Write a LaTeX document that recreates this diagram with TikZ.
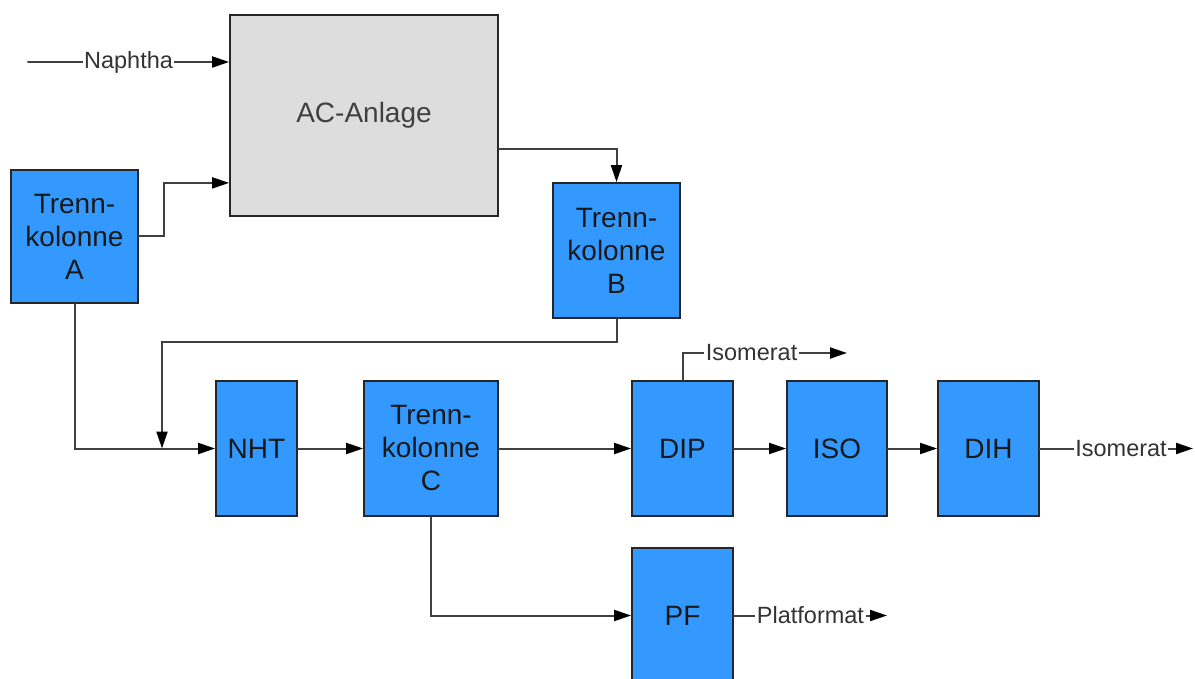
\documentclass[tikz,border=0pt]{standalone}
\usepackage{fontspec}
\setmainfont{Liberation Sans}
\usetikzlibrary{
    arrows.meta,
    positioning
}

\begin{document}
\begin{tikzpicture}
    [x=1pt,y=-1pt,line cap=round,
    % Styles
    unit/.style={draw=black!85,line width=1.8pt,fill=unitblue,text=black!90,
        align=center,inner sep=0pt,font=\fontsize{28}{33}\selectfont},
    plant/.style={unit,fill=plantgray,text=black!75},
    flow/.style={draw=black!75,line width=2pt,
        -{Triangle[length=17pt,width=11pt,color=black]}},
    stream label/.style={fill=white,inner sep=1.5pt,text=black!80,
        font=\fontsize{23.5}{28}\selectfont}]

    % Colors
    \definecolor{unitblue}{RGB}{51,153,255}
    \definecolor{plantgray}{RGB}{221,221,221}

    \useasboundingbox (0,0) rectangle (1195,679);

    % The units
    \node[plant,minimum width=268pt,minimum height=201pt] (ac) at (364,115.5) {AC-Anlage};
    \node[unit,minimum width=127pt,minimum height=133pt] (tkA) at (74.5,236.5) {Trenn-\\kolonne\\A};
    \node[unit,minimum width=127pt,minimum height=135pt] (tkB) at (616.5,250.5) {Trenn-\\kolonne\\B};
    \node[unit,minimum width=81pt,minimum height=135pt] (nht) at (256.5,448.5) {NHT};
    \node[unit,minimum width=134pt,minimum height=135pt] (tkC) at (431,448.5) {Trenn-\\kolonne\\C};
    \node[unit,minimum width=101pt,minimum height=135pt] (dip) at (682.5,448.5) {DIP};
    \node[unit,minimum width=100pt,minimum height=135pt] (iso) at (837,448.5) {ISO};
    \node[unit,minimum width=101pt,minimum height=135pt] (dih) at (988.5,448.5) {DIH};
    \node[unit,minimum width=101pt,minimum height=135pt] (pf) at (682.5,615.5) {PF};

    % Free ends of the streams
    \coordinate (feed) at (28,62);
    \coordinate (merge) at (162,448.5);
    \coordinate (dip out) at (847,353);
    \coordinate (dih out) at (1193,448.5);
    \coordinate (pf out) at (887,615.5);

    % Streams
    \draw[flow] (feed) -- node[stream label] {Naphtha} (feed -| ac.west);
    \draw[flow] (tkA.east) -- ++(25,0) |- ([yshift=34pt]ac.south west);
    \draw[flow] ([yshift=68pt]ac.south east) -| (tkB.north);
    \draw[flow] (tkA.south) |- (nht.west);
    \draw[flow] (tkB.south) -- ++(0,23) -| (merge);
    \draw[flow] (nht) -- (tkC);
    \draw[flow] (tkC) -- (dip);
    \draw[flow] (dip) -- (iso);
    \draw[flow] (iso) -- (dih);
    \draw[flow] (tkC.south) |- (pf.west);

    % products
    \draw[flow] (dip.north) |- node[stream label,pos=0.71] {Isomerat} (dip out);
    \draw[flow] (dih.east) -- node[stream label,pos=0.53] {Isomerat} (dih out);
    \draw[flow] (pf.east) -- node[stream label] {Platformat} (pf out);
\end{tikzpicture}
\end{document}
